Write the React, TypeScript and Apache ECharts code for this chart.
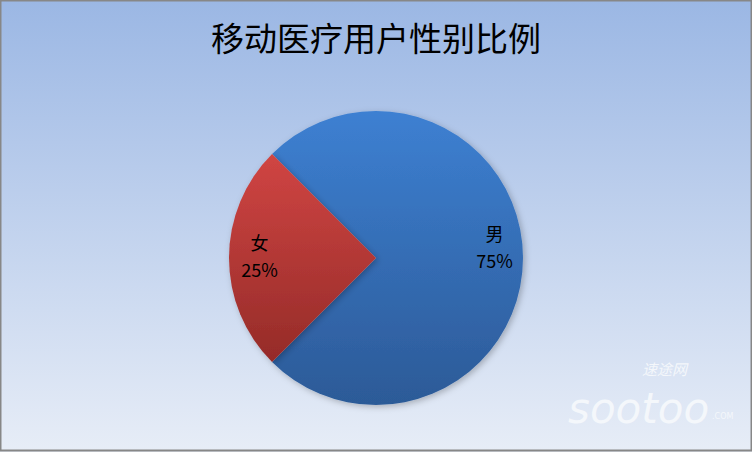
import React, { useEffect, useRef } from "react";
import * as echarts from "echarts";

const title = "移动医疗用户性别比例";
const categories = ["男", "女"];
const values = [75, 25];
const topColors = ["#3d80d2", "#d04543"];
const bottomColors = ["#2c5a97", "#952b28"];

export default function App() {
  const ref = useRef<HTMLDivElement>(null);
  useEffect(() => {
    document.body.style.margin = "0";
    const chart = echarts.init(ref.current!, null, { renderer: "svg" });
    const data = categories.map((name, i) => ({
      name,
      value: values[i],
      itemStyle: {
        color: new echarts.graphic.LinearGradient(0, 0, 0, 1, [
          { offset: 0, color: topColors[i] },
          { offset: 1, color: bottomColors[i] },
        ]),
      },
    }));
    const wm = {
      fill: "#f4f7fb",
      shadowColor: "rgba(0,0,0,0.35)",
      shadowBlur: 2,
      shadowOffsetX: 1,
      shadowOffsetY: 1,
    };
    chart.setOption({
      animation: false,
      backgroundColor: new echarts.graphic.LinearGradient(0, 0, 0, 1, [
        { offset: 0, color: "#9bb7e4" },
        { offset: 1, color: "#e7edf7" },
      ]),
      title: {
        text: title,
        left: "center",
        top: 15,
        textStyle: {
          fontSize: 33,
          fontWeight: "normal",
          color: "#000",
          fontFamily: "'Noto Sans CJK SC', sans-serif",
        },
      },
      graphic: [
        {
          type: "rect",
          shape: { x: 0.5, y: 0.5, width: 751, height: 450 },
          style: { fill: "none", stroke: "#878787", lineWidth: 2 },
          silent: true,
        },
        {
          type: "text",
          x: 642,
          y: 361,
          style: {
            ...wm,
            text: "速途网",
            fontSize: 15,
            fontStyle: "italic",
            verticalAlign: "top",
            fontFamily: "'Noto Sans CJK SC', sans-serif",
          },
        },
        {
          type: "text",
          x: 568,
          y: 387,
          style: {
            ...wm,
            text: "sootoo",
            fontSize: 42,
            fontStyle: "italic",
            verticalAlign: "top",
            fontFamily: "'DejaVu Sans', sans-serif",
          },
        },
        {
          type: "text",
          x: 712,
          y: 412,
          style: {
            ...wm,
            text: ".COM",
            fontSize: 8,
            verticalAlign: "top",
            fontFamily: "'DejaVu Sans', sans-serif",
            shadowBlur: 1,
          },
        },
      ],
      series: [
        {
          type: "pie",
          center: [376, 258],
          radius: [0, 147],
          startAngle: 135,
          clockwise: true,
          data,
          label: {
            show: true,
            position: "inside",
            formatter: "{b}\n{d}%",
            fontSize: 18,
            lineHeight: 27,
            color: "#000",
            fontFamily: "'Noto Sans CJK SC', sans-serif",
          },
          labelLine: { show: false },
          labelLayout: (p: any) =>
            p.dataIndex === 0 ? { dx: 42, dy: -12 } : { dx: -40, dy: -3 },
          itemStyle: {
            shadowColor: "rgba(0,0,0,0.25)",
            shadowBlur: 6,
            shadowOffsetX: 2,
            shadowOffsetY: 2,
          },
          emphasis: { disabled: true },
        },
      ],
    });
    return () => chart.dispose();
  }, []);
  return (
    <div
      ref={ref}
      style={{ position: "fixed", left: 0, top: 0, width: 752, height: 452 }}
    />
  );
}
